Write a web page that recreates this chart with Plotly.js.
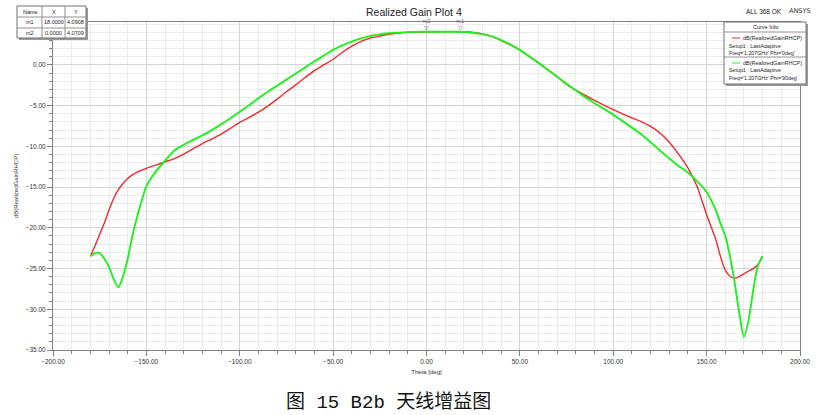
<!DOCTYPE html>
<html>
<head>
<meta charset="utf-8">
<script src="https://cdn.plot.ly/plotly-3.0.1.min.js"></script>
<style>
html,body{margin:0;padding:0;background:#fff;}
#chart{width:824px;height:415px;}
</style>
</head>
<body>
<div id="chart"></div>
<script>
// ---- data ----
const theta = [-180,-177.5,-175,-172.5,-170,-167.5,-165,-162.5,-160,-157.5,-155,
  -150,-145,-140,-135,-130,-125,-120,-115,-110,-105,-100,-95,-90,-85,-80,-75,-70,-65,-60,-55,
  -50,-45,-40,-35,-30,-25,-20,-15,-10,-5,0,5,10,15,20,25,30,35,40,45,50,55,60,65,70,75,80,85,
  90,95,100,105,110,115,120,125,130,135,140,145,150,155,157.5,160,162.5,165,167.5,170,172.5,175,177.5,180];

const gainPhi0 = [-23.5,-22.2,-20.8,-19.4,-17.8,-16.4,-15.3,-14.55,-13.95,-13.5,-13.15,
  -12.7,-12.3,-11.9,-11.5,-10.95,-10.3,-9.65,-9.1,-8.5,-7.8,-7.05,-6.45,-5.8,-5.05,-4.2,-3.3,-2.45,-1.55,-0.7,0.0,
  0.7,1.55,2.3,2.9,3.3,3.55,3.76,3.92,4.0,4.05,4.07,4.08,4.09,4.09,4.08,3.98,3.8,3.5,3.0,2.45,1.8,1.05,0.25,-0.6,-1.45,-2.4,-3.1,-3.75,
  -4.35,-4.95,-5.5,-6.0,-6.5,-6.95,-7.55,-8.35,-9.5,-10.95,-12.65,-15.0,-18.4,-21.5,-23.6,-25.2,-25.95,-26.2,-26.0,-25.65,-25.3,-25.0,-24.5,-23.5];

const gainPhi90 = [-23.5,-23.1,-23.1,-23.8,-24.8,-26.3,-27.3,-26.0,-23.8,-21.0,-18.7,
  -14.9,-13.1,-11.75,-10.5,-9.8,-9.2,-8.65,-8.0,-7.3,-6.55,-5.75,-4.95,-4.1,-3.3,-2.55,-1.8,-1.05,-0.3,0.45,1.15,
  1.85,2.4,2.85,3.25,3.55,3.75,3.88,3.97,4.03,4.06,4.07,4.08,4.08,4.07,4.05,3.95,3.78,3.5,3.05,2.5,1.85,1.05,0.25,-0.6,-1.45,-2.3,-3.15,-3.95,
  -4.7,-5.4,-6.1,-6.9,-7.7,-8.5,-9.5,-10.5,-11.5,-12.4,-13.2,-14.3,-15.6,-17.9,-19.5,-21.0,-23.5,-26.7,-30.5,-33.4,-31.3,-27.6,-24.6,-23.5];

const markerNames = ['m1','m2'];
const markerX = [18.0, 0.0];
const markerY = [4.0908, 4.0709];

const xTickVals = [-200,-150,-100,-50,0,50,100,150,200];
const yTickVals = [-35,-30,-25,-20,-15,-10,-5,0];

const curveNames = ['dB(RealizedGainRHCP)','dB(RealizedGainRHCP)'];
const curveSetup = ['Setup1 : LastAdaptive','Setup1 : LastAdaptive'];
const curveFreq = ["Freq='1.207GHz' Phi='0deg'","Freq='1.207GHz' Phi='90deg'"];
const curveColors = ['#f0282d','#1ef01e'];

// ---- layout helpers (pixel -> paper) ----
const PL = 53, PR = 800, PT = 22, PB = 350;
const px = v => (v - PL) / (PR - PL);
const py = v => (PB - v) / (PB - PT);
const FONT = 'Liberation Sans, Arial, sans-serif';

const shapes = [];
const annotations = [];
function rect(x0,y0,x1,y1,line,fill){
  shapes.push({type:'rect',xref:'paper',yref:'paper',x0:px(x0),x1:px(x1),y0:py(y0),y1:py(y1),
    line:{color:line,width:line==='rgba(0,0,0,0)'?0:1},fillcolor:fill,layer:'above'});
}
function seg(x0,y0,x1,y1,color,w){
  shapes.push({type:'line',xref:'paper',yref:'paper',x0:px(x0),x1:px(x1),y0:py(y0),y1:py(y1),
    line:{color:color,width:w||1},layer:'above'});
}
function txt(t,x,y,size,anchor,color,family){
  annotations.push({text:t,xref:'paper',yref:'paper',x:px(x),y:py(y),xanchor:anchor||'center',yanchor:'middle',
    showarrow:false,font:{size:size,color:color||'#222',family:family||FONT}});
}

// marker table
rect(19,8,88,40,'rgba(0,0,0,0)','#9a9a9a');
rect(17,6,86,38,'#707070','#ffffff');
seg(42,6,42,38,'#909090');
seg(65,6,65,38,'#909090');
seg(17,17,86,17,'#909090');
seg(17,28,86,28,'#909090');
txt('Name',30,11.5,5.5);
txt('X',53.5,11.5,5.5);
txt('Y',75.5,11.5,5.5);
for (let i=0;i<markerNames.length;i++){
  const yy = 22.5 + i*11;
  txt(markerNames[i],30,yy,5.5);
  txt(markerX[i].toFixed(4),53.5,yy,5.5);
  txt(markerY[i].toFixed(4),75.5,yy,5.5);
}

// curve info box
rect(726,24,808,86,'rgba(0,0,0,0)','#9a9a9a');
rect(724,22,806,84,'#707070','#ffffff');
txt('Curve Info',765,27.5,5.5);
seg(724,32,806,32,'#909090');
seg(724,57,806,57,'#909090');
for (let i=0;i<2;i++){
  const base = 38 + i*25;
  seg(732,base,740,base,curveColors[i],1);
  txt(curveNames[i],804,base,5.5,'right');
  txt(curveSetup[i],727,base+7.5,5.3,'left');
  txt(curveFreq[i],727,base+14.5,5.3,'left');
}

// top texts
txt('ALL 368 OK',764,12,6.5,'center','#222');
txt('ANSYS',800,11,6.5,'center','#333','DejaVu Sans');
txt('Realized Gain Plot 4',414,12.5,10.5,'center','#222');

// caption
txt('图 15 B2b 天线增益图',388,402,19,'center','#111','"Liberation Mono", "Noto Sans CJK SC", monospace');

const traces = [
  {x:theta,y:gainPhi0,type:'scatter',mode:'lines',line:{color:curveColors[0],width:1.4,shape:'spline',smoothing:0.7},hoverinfo:'skip'},
  {x:theta,y:gainPhi90,type:'scatter',mode:'lines',line:{color:curveColors[1],width:1.9,shape:'spline',smoothing:0.7},hoverinfo:'skip'},
  {x:markerX,y:markerY,type:'scatter',mode:'text',text:markerNames.map(n=>n+'<br>▽'),cliponaxis:false,
    textposition:'top center',textfont:{size:5.5,color:'#555',family:FONT},hoverinfo:'skip'}
];

const axisCommon = {
  showline:true,linecolor:'#808080',linewidth:1,mirror:true,
  ticks:'outside',ticklen:5,tickcolor:'#808080',tickwidth:1,
  showgrid:true,gridcolor:'#d4d4d4',gridwidth:1,zeroline:false,
  tickfont:{size:6.5,color:'#333',family:FONT},tickformat:'.2f',
};

const layout = {
  width:824,height:415,
  margin:{l:PL,r:824-PR,t:PT,b:415-PB,pad:0},
  paper_bgcolor:'#ffffff',plot_bgcolor:'#ffffff',
  showlegend:false,
  xaxis:Object.assign({},axisCommon,{
    range:[-200,200],tickvals:xTickVals,
    minor:{dtick:10,ticks:'outside',ticklen:3,tickcolor:'#808080',showgrid:true,gridcolor:'#ececec'},
    title:{text:'Theta [deg]',font:{size:6,color:'#333',family:FONT},standoff:6}
  }),
  yaxis:Object.assign({},axisCommon,{
    range:[-35,5.27],tickvals:yTickVals,
    minor:{dtick:1,ticks:'outside',ticklen:3,tickcolor:'#808080',showgrid:true,gridcolor:'#ececec'},
    title:{text:'dB(RealizedGainRHCP)',font:{size:6,color:'#333',family:FONT},standoff:6}
  }),
  shapes:shapes,
  annotations:annotations
};

Plotly.newPlot('chart',traces,layout,{staticPlot:true,displayModeBar:false});
</script>
</body>
</html>
